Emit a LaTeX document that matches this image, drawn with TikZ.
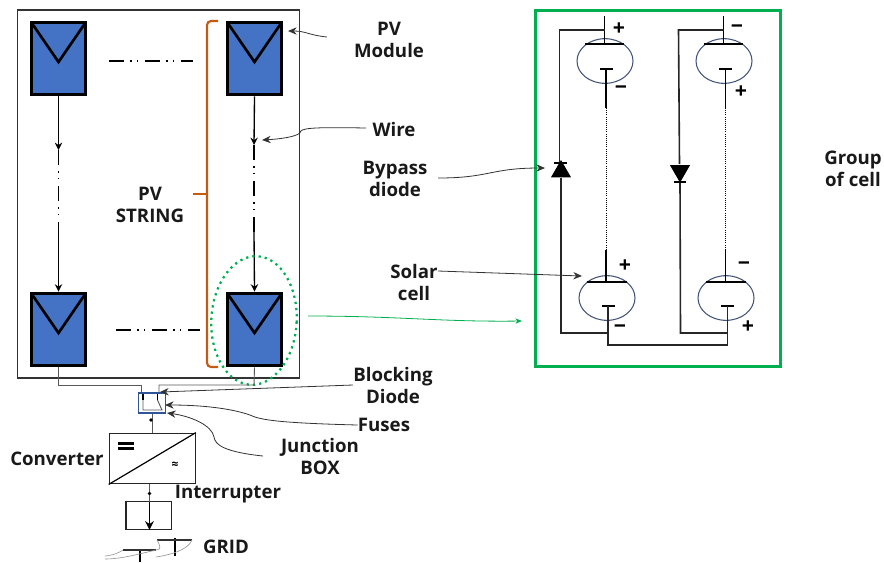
\documentclass[tikz,border=0pt]{standalone}
\usepackage{fontspec}
\setmainfont{Open Sans}
\usetikzlibrary{positioning,arrows.meta,shapes.geometric}
\definecolor{modblue}{RGB}{68,114,196}
\definecolor{brorange}{RGB}{197,90,17}
\definecolor{grgreen}{RGB}{0,176,80}
\definecolor{cellblue}{RGB}{68,84,120}
\definecolor{boxblue}{RGB}{47,85,151}
\tikzset{
  module/.style={rectangle,draw=black,fill=modblue,line width=2.4pt,minimum width=41pt,minimum height=54.5pt,inner sep=0pt,
    path picture={\draw[line width=2pt] (path picture bounding box.north west) -- ([yshift=-2.6pt]path picture bounding box.center) -- (path picture bounding box.north east);}},
  cellnode/.style={ellipse,draw=cellblue,line width=0.8pt,minimum width=42pt,minimum height=33.5pt,inner sep=0pt},
  lbl/.style={font=\fontsize{14}{16.5}\selectfont\bfseries,align=center,inner sep=0pt,text=black!90},
  sgn/.style={font=\fontsize{16}{16}\selectfont\bfseries,inner sep=0pt},
  wire/.style={line width=1pt},
  gwire/.style={line width=0.7pt,black!65},
  plate/.style={line width=0.8pt},
  cwire/.style={line width=1.2pt,black!85},
  lead/.style={line width=0.6pt,black!80,-{Stealth[length=6.5pt,width=5.5pt]}},
  chain/.style={line width=1pt,dash pattern=on 11pt off 5pt on 1pt off 4pt on 1pt off 5pt},
  diode/.style={isosceles triangle,isosceles triangle apex angle=60,fill=black,inner sep=0pt,minimum height=13pt,minimum width=14pt}
}
\begin{document}
\begin{tikzpicture}[x=0.75pt,y=-0.75pt]
  \useasboundingbox (0,0) rectangle (884,562);
  % array frame and modules
  \node[draw=black!80,line width=0.9pt,minimum width=212pt,minimum height=276pt,inner sep=0pt] (frame) at (158.5,194) {};
  \node[module] (m1) at (58.5,58.5) {};
  \node[module] (m2) at (254.5,58.5) {};
  \node[module] (m3) at (58.5,329.5) {};
  \node[module] (m4) at (254.5,329.5) {};
  % strings
  \coordinate (s1) at (58.5,150); \coordinate (s2) at (58.5,232);
  \coordinate (s3) at (254,145); \coordinate (s4) at (254,232);
  \draw[wire,-{Stealth[length=5.5pt,width=5.5pt]}] (m1.south) -- (s1);
  \draw[chain] (s1) -- (s2);
  \draw[wire,-{Stealth[length=5.5pt,width=5.5pt]}] (s2) -- (m3.north);
  \draw[wire,-{Stealth[length=5.5pt,width=5.5pt]}] (m2.south) -- (s3);
  \draw[chain] (s3) -- (s4);
  \draw[wire,-{Stealth[length=5.5pt,width=5.5pt]}] (s4) -- (m4.north);
  \coordinate (h1) at (109,61); \coordinate (h2) at (193,61);
  \coordinate (h3) at (116,330); \coordinate (h4) at (200,330);
  \draw[chain] (h1) -- (h2);
  \draw[chain] (h3) -- (h4);
  % bracket
  \coordinate (b1) at (218,21); \coordinate (b2) at (207,21); \coordinate (b3) at (207,367); \coordinate (b4) at (218,367);
  \coordinate (b5) at (193,194); \coordinate (b6) at (207,194);
  \draw[brorange,line width=1.6pt,rounded corners=3pt] (b1) -- (b2) -- (b3) -- (b4);
  \draw[brorange,line width=1.6pt] (b5) -- (b6);
  % green group
  \node[ellipse,draw=grgreen,line width=1.7pt,dash pattern=on 1.7pt off 3pt,minimum width=64pt,minimum height=96.5pt,inner sep=0pt,rotate=-3] (sel) at (254,320.5) {};
  \node[draw=grgreen,line width=2.1pt,minimum width=183.5pt,minimum height=266.5pt,inner sep=0pt] (grp) at (658,188.5) {};
  \coordinate (ga) at (308,316); \coordinate (gb) at (522,321);
  \draw[grgreen,line width=0.6pt,-{Stealth[length=5pt,width=4pt]}] (ga) .. controls (400,316) and (440,322) .. (gb);
  % cells
  \node[cellnode] (c1) at (605,61) {};
  \node[cellnode] (c2) at (724,61) {};
  \node[cellnode] (c3) at (607,298) {};
  \node[cellnode] (c4) at (726,298) {};
  \coordinate (t1) at (604.5,16); \coordinate (t2) at (604.5,44); \coordinate (t3) at (585,44); \coordinate (t4) at (624,44);
  \coordinate (u1) at (723.5,16); \coordinate (u2) at (723.5,44); \coordinate (u3) at (704,44); \coordinate (u4) at (743,44);
  \draw[plate] (t1) -- (t2); \draw[plate] (t3) -- (t4);
  \draw[plate] (u1) -- (u2); \draw[plate] (u3) -- (u4);
  \coordinate (l1) at (600,69); \coordinate (l2) at (613,69); \coordinate (l3) at (606,69); \coordinate (l4) at (606,108);
  \coordinate (l5) at (606,250); \coordinate (l6) at (606,282); \coordinate (l7) at (587,282); \coordinate (l8) at (627,282);
  \draw[plate] (l1) -- (l2); \draw[plate] (l3) -- (l4);
  \draw[line width=0.6pt,densely dotted] (l4) -- (l5);
  \draw[plate] (l5) -- (l6); \draw[plate] (l7) -- (l8);
  \coordinate (r1) at (719,69); \coordinate (r2) at (732,69); \coordinate (r3) at (725.5,69); \coordinate (r4) at (725.5,108);
  \coordinate (r5) at (725.5,250); \coordinate (r6) at (725.5,282); \coordinate (r7) at (706,282); \coordinate (r8) at (746,282);
  \draw[plate] (r1) -- (r2); \draw[plate] (r3) -- (r4);
  \draw[line width=0.6pt,densely dotted] (r4) -- (r5);
  \draw[plate] (r5) -- (r6); \draw[plate] (r7) -- (r8);
  \coordinate (p1) at (602,306); \coordinate (p2) at (615,306); \coordinate (p3) at (608,306); \coordinate (p4) at (608,345);
  \coordinate (q1) at (721,306); \coordinate (q2) at (734,306); \coordinate (q3) at (727.5,306); \coordinate (q4) at (727.5,345);
  \draw[plate] (p1) -- (p2); \draw[plate] (q1) -- (q2);
  \draw[cwire] (p3) -- (p4) -- (q4) -- (q3);
  % bypass branches
  \node[diode,rotate=90] (d1) at (561,171.5) {};
  \node[diode,rotate=-90] (d2) at (680,171) {};
  \coordinate (e1) at (559.5,30); \coordinate (e2) at (561,333); \coordinate (e3) at (678.5,30); \coordinate (e4) at (680.5,333);
  \coordinate (db1) at (554,163); \coordinate (db2) at (567,163); \coordinate (db3) at (674,182); \coordinate (db4) at (686,182);
  \draw[cwire] (t2 |- e1) -- (e1) -- (db1 -| e1);
  \draw[cwire] (561,178) -- (e2) -- (p3 |- e2);
  \draw[cwire] (u2 |- e3) -- (e3) -- (679.5,164);
  \draw[cwire] (680,182) -- (e4) -- (q3 |- e4);
  \draw[line width=1.1pt] (db1) -- (db2); \draw[line width=1.1pt] (db3) -- (db4);
  % signs
  \node[sgn] (s11) at (619,29) {+}; \node[sgn] (s12) at (621,90) {−};
  \node[sgn] (s21) at (737,29) {−}; \node[sgn] (s22) at (741,92) {+};
  \node[sgn] (s31) at (625,266) {+}; \node[sgn] (s32) at (620,329) {−};
  \node[sgn] (s41) at (744,266) {−}; \node[sgn] (s42) at (748,327) {+};
  % junction box
  \node[draw=boxblue,line width=0.8pt,minimum width=20.5pt,minimum height=15pt,inner sep=0pt] (jb) at (152,403) {};
  \coordinate (w1) at (58.5,385); \coordinate (w2) at (141.5,385); \coordinate (w3) at (254,385); \coordinate (w4) at (159,385);
  \draw[gwire] (m3.south) -- (w1) -- (w2) -- (w2 |- jb.north);
  \draw[gwire] (m4.south) -- (w3) -- (w4) -- (w4 |- jb.north);
  \coordinate (f1) at (143,394); \coordinate (f2) at (143,400); \coordinate (f3) at (157.5,394); \coordinate (f4) at (157.5,400);
  \coordinate (f5) at (143,410); \coordinate (f6) at (162,410);
  \draw[line width=1.4pt] (f1) -- (f2); \draw[line width=1.4pt] (f3) -- (f4);
  \draw[gwire] (f2) -- (f5) -- (f6) -- (f4);
  % converter and interrupter
  \node[draw=black!85,line width=0.9pt,minimum width=64.5pt,minimum height=38pt,inner sep=0pt] (conv) at (152.3,458.5) {};
  \draw[line width=0.9pt] (conv.south west) -- (conv.north east);
  \coordinate (cb1) at (118,443.5); \coordinate (cb2) at (134,443.5); \coordinate (cb3) at (118,448.5); \coordinate (cb4) at (134,448.5);
  \draw[line width=2pt] (cb1) -- (cb2); \draw[line width=2pt] (cb3) -- (cb4);
  \node[font=\fontsize{9}{9}\selectfont\bfseries,inner sep=0pt] (acs) at (175,465) {≈};
  \node[draw=black!85,line width=0.9pt,minimum width=34pt,minimum height=20.5pt,inner sep=0pt] (brk) at (148.7,515.5) {};
  \draw[gwire] (jb.south) -- (jb.south |- conv.north);
  \fill (151,420) circle (1.8) coordinate (k1);
  \coordinate (k2) at (149.5,502);
  \draw[gwire] (k2 |- conv.south) -- (k2);
  \fill (149.5,493.5) circle (1.8) coordinate (k3);
  \draw[line width=1.2pt,-{Stealth[length=6.5pt,width=6.5pt]}] (k2) -- (k2 |- brk.south);
  % grid
  \coordinate (g1) at (140,549); \coordinate (g2) at (140,562); \coordinate (g3) at (123,550); \coordinate (g4) at (156,550);
  \coordinate (g5) at (175,538); \coordinate (g6) at (175,556); \coordinate (g7) at (157,540); \coordinate (g8) at (192,540);
  \draw[line width=1.1pt] (g1) -- (g2); \draw[line width=1.6pt,black!80] (g3) -- (g4);
  \draw[line width=1.1pt] (g5) -- (g6); \draw[line width=1.6pt,black!80] (g7) -- (g8);
  \coordinate (g9) at (105,556); \coordinate (g10) at (105,559); \coordinate (g11) at (156,557);
  \draw[black!40,line width=0.5pt] (g9) .. controls (115,555) and (120,552) .. (g3);
  \draw[black!40,line width=0.5pt] (g10) .. controls (120,559) and (135,555) .. (g4) .. controls (162,550) and (160,545) .. (g7);
  \draw[black!40,line width=0.5pt] (g11) .. controls (170,555) and (188,550) .. (g8);
  % labels
  \node[lbl] (lmod) at (389,39.5) {PV\\Module};
  \node[lbl] (lwire) at (394,129) {Wire};
  \node[lbl] (lbyp) at (395,179) {Bypass\\diode};
  \node[lbl] (lsol) at (414,282) {Solar\\cell};
  \node[lbl] (lblk) at (393,385) {Blocking\\Diode};
  \node[lbl] (lfus) at (384,425) {Fuses};
  \node[lbl] (ljun) at (320,456) {Junction\\BOX};
  \node[lbl] (lcon) at (57,459) {Converter};
  \node[lbl] (lint) at (228,494) {Interrupter};
  \node[lbl] (lgrd) at (226,547) {GRID};
  \node[lbl] (lgrp) at (853,169) {Group\\of cell};
  \node[lbl] (lstr) at (150,205) {PV\\STRING};
  % leaders
  \coordinate (a1) at (327,37); \coordinate (a2) at (288,31);
  \coordinate (a3) at (366,128); \coordinate (a4) at (262,140);
  \coordinate (a5) at (438,178); \coordinate (a6) at (545,168);
  \coordinate (a7) at (438,271); \coordinate (a8) at (582,276);
  \coordinate (a9) at (160,392); \coordinate (a10) at (165,405);
  \coordinate (a11) at (263,456); \coordinate (a12) at (167,413);
  \draw[lead] (a1) .. controls (308,35) and (306,31) .. (a2);
  \draw[lead] (a3) .. controls (310,127) and (300,128) .. (300,133) .. controls (295,137) and (280,139) .. (a4);
  \draw[lead] (a5) .. controls (490,178) and (490,168) .. (a6);
  \draw[lead] (a7) -- (a8);
  \draw[lead] (lblk.west) -- (a9);
  \draw[lead] (lfus.west) .. controls (280,423) and (260,420) .. (250,415) .. controls (230,408) and (200,405) .. (a10);
  \draw[lead] (a11) .. controls (225,452) and (215,445) .. (214,437) .. controls (212,425) and (190,416) .. (a12);
\end{tikzpicture}
\end{document}
